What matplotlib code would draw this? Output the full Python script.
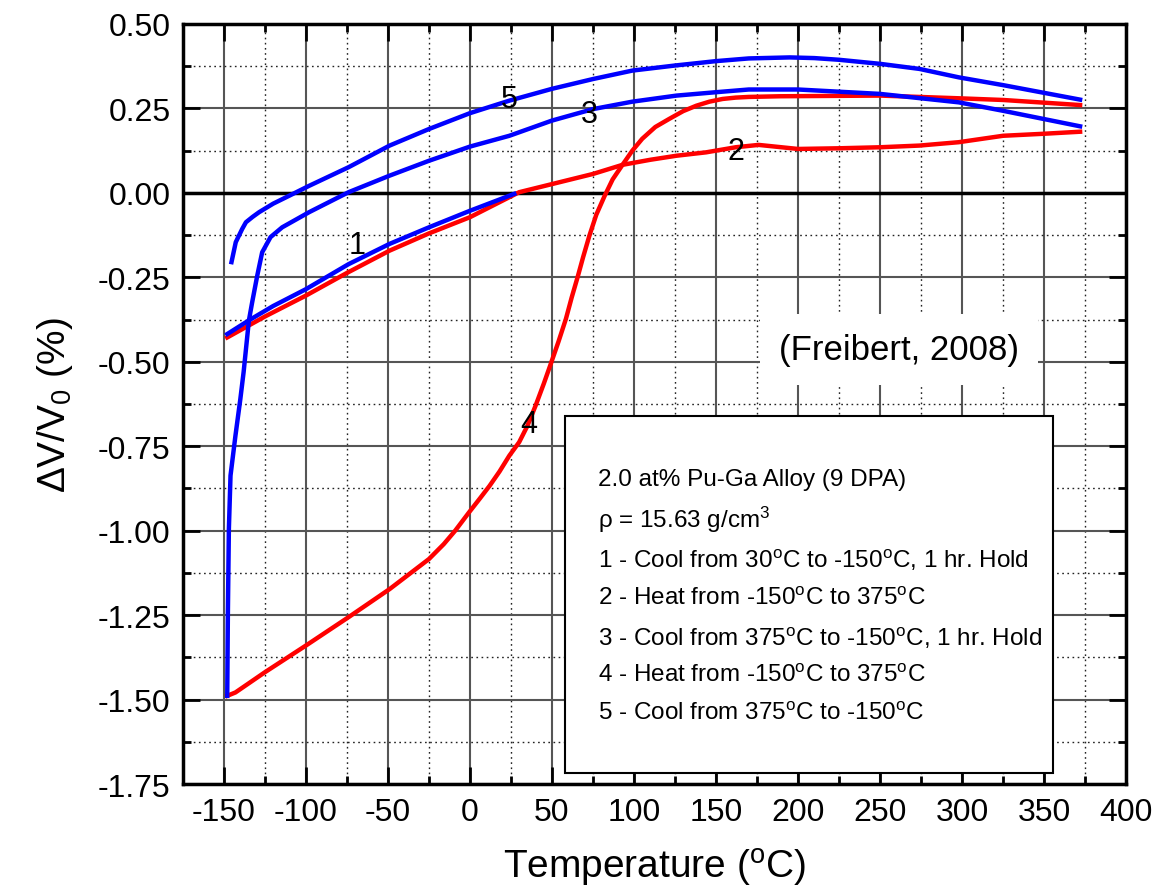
import matplotlib
matplotlib.use('Agg')
import matplotlib.pyplot as plt
from matplotlib.ticker import MultipleLocator
from matplotlib.patches import Rectangle
import numpy as np

plt.rcParams['font.family'] = ['Liberation Sans', 'DejaVu Sans']
plt.rcParams['axes.unicode_minus'] = False
plt.rcParams['mathtext.fontset'] = 'custom'
plt.rcParams['mathtext.rm'] = 'Liberation Sans'
plt.rcParams['mathtext.it'] = 'Liberation Sans:italic'
plt.rcParams['mathtext.default'] = 'regular'

# curve 1 : cool 30 -> -150
t1 = [27, 0, -25, -49, -74, -100, -120, -135, -148]
v1 = [-0.003, -0.053, -0.102, -0.151, -0.211, -0.285, -0.335, -0.378, -0.418]

# curve 2 : heat -150 -> 375
t2 = [-148, -125, -100, -75, -49, -25, 0, 30, 50, 75, 93, 110, 126, 144, 162, 176,
      200, 225, 250, 274, 298, 325, 350, 372]
v2 = [-0.428, -0.366, -0.304, -0.237, -0.171, -0.12, -0.072, 0.002, 0.026, 0.056,
      0.083, 0.098, 0.110, 0.120, 0.135, 0.142, 0.130, 0.132, 0.135, 0.14, 0.15,
      0.169, 0.175, 0.181]

# curve 3 : cool 375 -> -150, hold
t3 = [372, 325, 298, 250, 200, 170, 150, 126, 99, 75, 50, 24, 0, -25, -49, -74,
      -98, -114.5, -121.6, -126.7, -129.7, -132.8, -134.8, -138, -140, -143, -146,
      -147, -147.6, -148]
v3 = [0.197, 0.243, 0.268, 0.293, 0.306, 0.306, 0.298, 0.288, 0.27, 0.248, 0.214,
      0.169, 0.137, 0.095, 0.051, 0.002, -0.057, -0.102, -0.131, -0.176, -0.245,
      -0.324, -0.378, -0.53, -0.61, -0.719, -0.837, -0.995, -1.242, -1.489]

# curve 4 : heat -150 -> 375
t4 = [-148, -143, -125, -100, -74, -49, -25, -16, -9, -0.6, 6, 12, 18, 24, 30, 35,
      40, 45, 49, 54, 58.5, 62, 65.6, 69, 72.8, 77, 82, 87, 93, 99, 105, 113, 121.5,
      130, 138, 146, 154, 162, 170, 189, 250, 298, 325, 372]
v4 = [-1.489, -1.479, -1.419, -1.34, -1.256, -1.173, -1.084, -1.04, -1.0, -0.946,
      -0.905, -0.867, -0.825, -0.778, -0.738, -0.69, -0.63, -0.565, -0.51, -0.44,
      -0.373, -0.31, -0.25, -0.19, -0.127, -0.065, -0.01, 0.04, 0.083, 0.125, 0.16,
      0.195, 0.219, 0.242, 0.258, 0.27, 0.278, 0.282, 0.284, 0.286, 0.288, 0.28,
      0.275, 0.26]

# curve 5 : cool 375 -> -150
t5 = [372, 325, 298, 274, 250, 225, 210, 195, 170, 150, 125, 99, 75, 50, 24, 0,
      -25, -49, -74, -98, -110, -120, -128.5, -132.5, -136.6, -138.9, -142.8, -145.4]
v5 = [0.276, 0.319, 0.342, 0.367, 0.382, 0.394, 0.399, 0.401, 0.398, 0.39, 0.377,
      0.362, 0.337, 0.308, 0.273, 0.236, 0.189, 0.14, 0.076, 0.021, -0.008, -0.032,
      -0.057, -0.071, -0.087, -0.107, -0.146, -0.205]

curve_labels = ['1', '2', '3', '4', '5']
label_t = [-69, 162, 73, 36, 24]
label_v = [-0.155, 0.124, 0.233, -0.684, 0.278]

legend_lines = ['2.0 at% Pu-Ga Alloy (9 DPA)',
                'ρ = 15.63 g/cm$^3$',
                '1 - Cool from 30$^o$C to -150$^o$C, 1 hr. Hold',
                '2 - Heat from -150$^o$C to 375$^o$C',
                '3 - Cool from 375$^o$C to -150$^o$C, 1 hr. Hold',
                '4 - Heat from -150$^o$C to 375$^o$C',
                '5 - Cool from 375$^o$C to -150$^o$C']

fig = plt.figure(figsize=(11.55, 8.95), dpi=100)
ax = fig.add_axes([0.1584, 0.1229, 0.8165, 0.8492])

lw = 3.2
ax.plot(t2, v2, color='#ff0000', lw=lw, zorder=3)
ax.plot(t4, v4, color='#ff0000', lw=lw, zorder=3)
ax.plot(t1, v1, color='#0000ff', lw=lw, zorder=3.2)
ax.plot(t3, v3, color='#0000ff', lw=lw, zorder=3.1)
ax.plot(t5, v5, color='#0000ff', lw=lw, zorder=3.1)

for lab, x, y in zip(curve_labels, label_t, label_v):
    ax.text(x, y, lab, fontsize=22, ha='center', va='center', zorder=5)

ax.set_xlim(-175, 400)
ax.set_ylim(-1.75, 0.5)
ax.xaxis.set_minor_locator(MultipleLocator(25))
ax.yaxis.set_minor_locator(MultipleLocator(0.125))
ax.set_xticks(np.arange(-150, 401, 50))
ax.set_yticks(np.arange(-1.75, 0.51, 0.25))
ax.set_yticklabels(['%.2f' % v for v in np.arange(-1.75, 0.51, 0.25)])

ax.set_axisbelow(True)
ax.grid(which='major', color='#555555', lw=1.5, ls='-')
ax.grid(which='minor', color='#222222', lw=1.0, ls=(0, (1.2, 2.5)))
ax.axhline(0, color='k', lw=2.5, zorder=2)

ax.tick_params(which='both', direction='in', top=True, right=True, width=2,
               labelsize=23, pad=9)
ax.tick_params(which='major', length=12)
ax.tick_params(which='minor', length=6)
for s in ax.spines.values():
    s.set_linewidth(2.5)

ax.set_xlabel('Temperature ($^o$C)', fontsize=28, labelpad=14)
ax.set_ylabel('ΔV/V$_0$ (%)', fontsize=28, labelpad=16)

ax.text(0.759, 0.572, '(Freibert, 2008)', transform=ax.transAxes, fontsize=25,
        ha='center', va='center', zorder=4,
        bbox=dict(boxstyle='square,pad=0.55', fc='white', ec='none'))

ax.add_patch(Rectangle((0.405, 0.0145), 0.5176, 0.4695, transform=ax.transAxes,
                       fc='white', ec='black', lw=1.5, zorder=4))
ys = [0.401, 0.349, 0.296, 0.245, 0.193, 0.143, 0.093]
for s, y in zip(legend_lines, ys):
    ax.text(0.44, y, s, transform=ax.transAxes, fontsize=17.5, ha='left',
            va='center', zorder=5)

fig.savefig('out.png', dpi=100)
